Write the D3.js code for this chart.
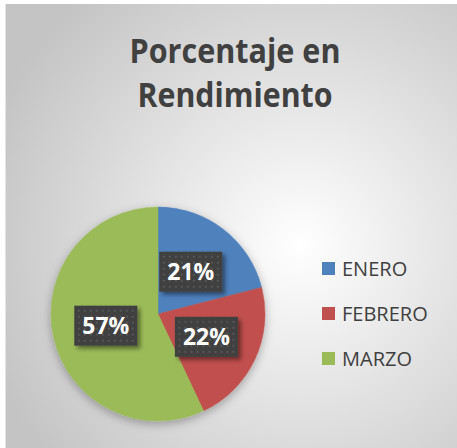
<!DOCTYPE html>
<html>
<head>
<meta charset="utf-8">
<script src="https://cdn.jsdelivr.net/npm/d3@7"></script>
<style>
  html, body { margin: 0; padding: 0; background: #fff; }
  svg { display: block; }
</style>
</head>
<body>
<svg id="chart"></svg>
<script>
// datos del grafico
const meses = ["ENERO", "FEBRERO", "MARZO"];
const porcentajes = [21, 22, 57];
const colores = ["#4F81BD", "#C0504D", "#9BBB59"];
const titulo = ["Porcentaje en", "Rendimiento"];

const W = 457, H = 448;
const cx = 158, cy = 314, R = 107;

const svg = d3.select("#chart")
    .attr("width", W)
    .attr("height", H);

const defs = svg.append("defs");

// fondo con degradado radial
const grad = defs.append("radialGradient")
    .attr("id", "fondo")
    .attr("gradientUnits", "userSpaceOnUse")
    .attr("cx", 300).attr("cy", 245).attr("r", 330);
grad.append("stop").attr("offset", "0%").attr("stop-color", "#ffffff");
grad.append("stop").attr("offset", "100%").attr("stop-color", "#c4c4c4");

// patron de puntos para las etiquetas
const pat = defs.append("pattern")
    .attr("id", "puntos")
    .attr("patternUnits", "userSpaceOnUse")
    .attr("width", 6).attr("height", 6);
pat.append("rect").attr("width", 6).attr("height", 6).attr("fill", "#3f3f3f");
pat.append("rect").attr("x", 2).attr("y", 2).attr("width", 2).attr("height", 2).attr("fill", "#575757");

const sombraPie = defs.append("filter").attr("id", "sombraPie")
    .attr("x", "-20%").attr("y", "-20%").attr("width", "140%").attr("height", "140%");
sombraPie.append("feDropShadow")
    .attr("dx", 0).attr("dy", 3).attr("stdDeviation", 5)
    .attr("flood-color", "#000").attr("flood-opacity", 0.3);

const sombraEtq = defs.append("filter").attr("id", "sombraEtq")
    .attr("x", "-30%").attr("y", "-30%").attr("width", "160%").attr("height", "160%");
sombraEtq.append("feDropShadow")
    .attr("dx", 3).attr("dy", 3).attr("stdDeviation", 2)
    .attr("flood-color", "#000").attr("flood-opacity", 0.45);

svg.append("rect")
    .attr("x", 5).attr("y", 4)
    .attr("width", W - 5).attr("height", H - 4)
    .attr("fill", "url(#fondo)");
svg.append("line")
    .attr("x1", 5.5).attr("x2", 5.5).attr("y1", 4).attr("y2", H)
    .attr("stroke", "#e4e4e4");

// titulo
svg.append("g")
    .selectAll("text")
    .data(titulo)
    .enter()
    .append("text")
    .text(d => d)
    .attr("x", 235)
    .attr("y", (d, i) => 63 + i * 44)
    .attr("text-anchor", "middle")
    .attr("font-family", "'Open Sans', sans-serif")
    .attr("font-weight", "bold")
    .attr("font-size", "34px")
    .attr("textLength", (d, i) => i === 0 ? 211 : 195)
    .attr("lengthAdjust", "spacingAndGlyphs")
    .attr("fill", "#404040");

// pastel
const pie = d3.pie().sort(null).value(d => d);
const arc = d3.arc().innerRadius(0).outerRadius(R);
const arcos = pie(porcentajes);

const gPie = svg.append("g")
    .attr("transform", `translate(${cx},${cy})`);

gPie.append("g")
    .attr("filter", "url(#sombraPie)")
    .selectAll("path")
    .data(arcos)
    .enter()
    .append("path")
    .attr("d", arc)
    .attr("fill", (d, i) => colores[i])
    .attr("stroke", (d, i) => colores[i])
    .attr("stroke-width", 0.5);

// etiquetas de porcentaje
const etq = gPie.selectAll("g.etq")
    .data(arcos)
    .enter()
    .append("g")
    .attr("class", "etq")
    .attr("transform", d => `translate(${arc.centroid(d)})`);

etq.append("rect")
    .attr("x", -31.5).attr("y", -20)
    .attr("width", 63).attr("height", 40)
    .attr("fill", "url(#puntos)")
    .attr("filter", "url(#sombraEtq)");

etq.append("text")
    .text(d => d.data + "%")
    .attr("text-anchor", "middle")
    .attr("dy", "0.36em")
    .attr("font-family", "'Open Sans', sans-serif")
    .attr("font-weight", "bold")
    .attr("font-size", "23px")
    .attr("fill", "#ffffff");

// leyenda
const yLeyenda = d3.scalePoint()
    .domain(meses)
    .range([268.5, 358.5]);

const ley = svg.append("g")
    .selectAll("g")
    .data(meses)
    .enter()
    .append("g")
    .attr("transform", d => `translate(322,${yLeyenda(d)})`);

ley.append("rect")
    .attr("x", 0).attr("y", -6.5)
    .attr("width", 13).attr("height", 13)
    .attr("fill", (d, i) => colores[i]);

ley.append("text")
    .text(d => d)
    .attr("x", 20)
    .attr("dy", "0.36em")
    .attr("font-family", "'Open Sans', sans-serif")
    .attr("font-size", "20px")
    .attr("fill", "#404040");
</script>
</body>
</html>
